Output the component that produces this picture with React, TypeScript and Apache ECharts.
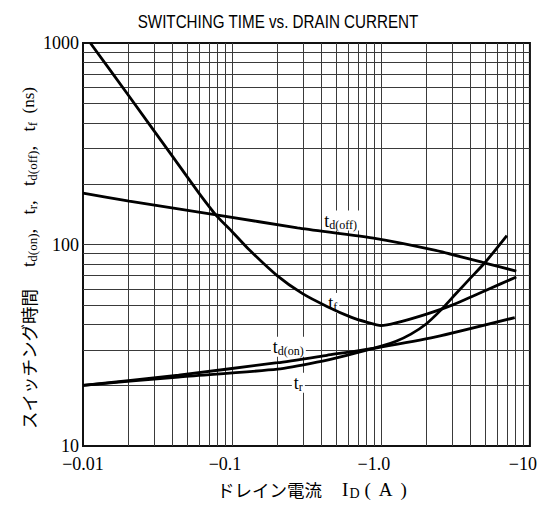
import React, { useEffect, useRef } from 'react';
import * as echarts from 'echarts';

// Axis ticks
const xTickValues = [0.01, 0.1, 1, 10];
const xTickLabels = ['−0.01', '−0.1', '−1.0', '−10'];
const yTickValues = [10, 100, 1000];
const yTickLabels = ['10', '100', '1000'];

// Log grid lines
const xGridLines = [0.02, 0.03, 0.04, 0.05, 0.06, 0.07, 0.08, 0.09, 0.1, 0.2, 0.3, 0.4, 0.5, 0.6, 0.7, 0.8, 0.9, 1, 2, 3, 4, 5, 6, 7, 8, 9];
const yGridLines = [20, 30, 40, 50, 60, 70, 80, 90, 100, 200, 300, 400, 500, 600, 700, 800, 900];

// Curves: |I_D| (A) vs time (ns)
const tfCurrent = [0.0112, 0.02, 0.04, 0.06, 0.08, 0.1, 0.128, 0.2, 0.296, 0.434, 0.635, 0.8, 1.0, 1.26, 2.0, 3.0, 5.0, 8.1];
const tfTime = [1000, 555, 273, 180, 137, 116, 95.5, 70.3, 57.2, 49.3, 43.5, 41.2, 39.6, 40.8, 45, 50, 59, 69];

const tdoffCurrent = [0.01, 0.0204, 0.0803, 0.275, 0.93, 2.33, 5.0, 8.1];
const tdoffTime = [180, 164, 140, 121, 107, 93.4, 80.9, 73.8];

const tdonCurrent = [0.01, 0.0438, 0.202, 0.434, 0.974, 2.33, 7.91];
const tdonTime = [20, 22.5, 25.9, 28.2, 30.9, 34.8, 43.4];

const trCurrent = [0.01, 0.0438, 0.202, 0.372, 0.589, 1.005, 1.263, 1.589, 2.0, 2.513, 3.16, 3.97, 5.0, 7.0];
const trTime = [20, 22.0, 24.05, 26.05, 28.2, 31.3, 33.1, 35.9, 40.2, 47.1, 56.6, 67.9, 81.4, 110.8];

// Curve label anchors (data coords)
const tdoffLabelAt = [0.537, 131.5];
const tfLabelAt = [0.475, 51.3];
const tdonLabelAt = [0.239, 31.1];
const trLabelAt = [0.279, 20.6];

const SERIF = "'Liberation Serif', 'Times New Roman', serif";
const CJK = "'Noto Sans CJK JP', sans-serif";

const zip = (xs: number[], ys: number[]) => xs.map((x, i) => [x, ys[i]]);

const curveRich = {
  t: { fontFamily: SERIF, fontSize: 18, lineHeight: 20, color: '#000' },
  s: { fontFamily: SERIF, fontSize: 12, lineHeight: 12, verticalAlign: 'bottom', color: '#000' },
};

const nearestIndex = (v: number, vals: number[]) => {
  let best = 0;
  for (let i = 1; i < vals.length; i++) {
    if (Math.abs(Math.log10(vals[i]) - Math.log10(v)) < Math.abs(Math.log10(vals[best]) - Math.log10(v))) best = i;
  }
  return best;
};

const curve = (name: string, xs: number[], ys: number[], at: number[], fmt: string) => ({
  name,
  type: 'line',
  data: zip(xs, ys),
  smooth: 0.2,
  showSymbol: false,
  symbol: 'none',
  lineStyle: { color: '#000', width: 2.8 },
  z: 5,
  markPoint: {
    silent: true,
    symbol: 'circle',
    symbolSize: 1,
    itemStyle: { color: 'rgba(0,0,0,0)' },
    data: [{ coord: at }],
    label: {
      show: true,
      position: 'inside',
      formatter: fmt,
      backgroundColor: '#fff',
      padding: [0, 2],
      rich: curveRich,
    },
  },
});

export default function App() {
  const ref = useRef<HTMLDivElement>(null);
  useEffect(() => {
    if (!ref.current) return;
    const chart = echarts.init(ref.current, undefined, { renderer: 'svg' });
    const option: any = {
      animation: false,
      backgroundColor: '#fff',
      grid: { left: 83, right: 19, top: 43, bottom: 60, show: true, borderColor: '#111', borderWidth: 2, backgroundColor: 'transparent' },
      xAxis: {
        type: 'log',
        logBase: 10,
        min: 0.01,
        max: 10,
        axisLine: { show: false },
        axisTick: { show: false },
        splitLine: { show: false },
        axisLabel: {
          margin: 10,
          color: '#000',
          fontFamily: SERIF,
          fontSize: 18,
          lineHeight: 16,
          formatter: (v: number) => {
            const i = nearestIndex(v, xTickValues);
            return i === 0 ? `{a|${xTickLabels[i]}}` : `{a|${xTickLabels[i]}}{p| }`;
          },
          rich: {
            a: { fontFamily: SERIF, fontSize: 18, lineHeight: 16, color: '#000' },
            p: { width: 14, fontSize: 18, lineHeight: 16 },
          },
        },
      },
      yAxis: {
        type: 'log',
        logBase: 10,
        min: 10,
        max: 1000,
        axisLine: { show: false },
        axisTick: { show: false },
        splitLine: { show: false },
        axisLabel: {
          margin: 4,
          color: '#000',
          fontFamily: SERIF,
          fontSize: 18,
          lineHeight: 16,
          padding: [0, 0, 6, 0],
          formatter: (v: number) => yTickLabels[nearestIndex(v, yTickValues)],
        },
      },
      graphic: [
        {
          type: 'text',
          x: 278,
          y: 21,
          scaleX: 0.8,
          style: {
            text: 'SWITCHING TIME vs. DRAIN CURRENT',
            font: "19px 'Liberation Sans', Arial, sans-serif",
            fill: '#000',
            align: 'center',
            verticalAlign: 'middle',
          },
        },
        {
          type: 'text',
          x: 28,
          y: 258,
          rotation: Math.PI / 2,
          style: {
            text: '{j|スイッチング時間}{g| }{t|t}{s|d(on)}{t|,   t}{s|r}{t|,   t}{s|d(off)}{t|,   t}{s|f}{n|  (ns)}',
            align: 'center',
            verticalAlign: 'middle',
            fill: '#000',
            rich: {
              j: { fontFamily: CJK, fontSize: 17.5, lineHeight: 22, color: '#000' },
              g: { width: 22, fontSize: 17, lineHeight: 22 },
              t: { fontFamily: SERIF, fontSize: 19, lineHeight: 22, color: '#000' },
              s: { fontFamily: SERIF, fontSize: 13, lineHeight: 13, verticalAlign: 'bottom', color: '#000' },
              n: { fontFamily: SERIF, fontSize: 17, lineHeight: 22, color: '#000' },
            },
          },
        },
        {
          type: 'text',
          x: 312,
          y: 489,
          style: {
            text: '{j|ドレイン電流}{g| }{t|I}{k| }{s|D}{h| }{t|(}{m| }{t|A}{m| }{t|)}',
            align: 'center',
            verticalAlign: 'middle',
            fill: '#000',
            rich: {
              j: { fontFamily: CJK, fontSize: 17.5, lineHeight: 22, color: '#000' },
              g: { width: 20, fontSize: 17, lineHeight: 22 },
              k: { width: 1, fontSize: 17, lineHeight: 22 },
              t: { fontFamily: SERIF, fontSize: 19, lineHeight: 22, color: '#000' },
              s: { fontFamily: SERIF, fontSize: 14, lineHeight: 13, verticalAlign: 'bottom', color: '#000' },
              h: { width: 5, fontSize: 17, lineHeight: 22 },
              m: { width: 8, fontSize: 17, lineHeight: 22 },
            },
          },
        },
      ],
      series: [
        {
          name: 'grid',
          type: 'line',
          data: [[0.01, 10]],
          showSymbol: false,
          symbol: 'none',
          lineStyle: { width: 0 },
          silent: true,
          z: 1,
          markLine: {
            silent: true,
            symbol: ['none', 'none'],
            label: { show: false },
            lineStyle: { color: '#3a3a3a', width: 1, type: 'solid' },
            emphasis: { disabled: true },
            data: [
              ...xGridLines.map((v) => ({ xAxis: v })),
              ...yGridLines.map((v) => ({ yAxis: v })),
            ],
          },
        },
        curve('tf', tfCurrent, tfTime, tfLabelAt, '{t|t}{s|f}'),
        curve('tdoff', tdoffCurrent, tdoffTime, tdoffLabelAt, '{t|t}{s|d(off)}'),
        curve('tdon', tdonCurrent, tdonTime, tdonLabelAt, '{t|t}{s|d(on)}'),
        curve('tr', trCurrent, trTime, trLabelAt, '{t|t}{s|r}'),
      ],
    };
    chart.setOption(option);
    return () => chart.dispose();
  }, []);
  return <div ref={ref} style={{ position: 'absolute', left: 0, top: 0, width: 554, height: 506 }} />;
}
